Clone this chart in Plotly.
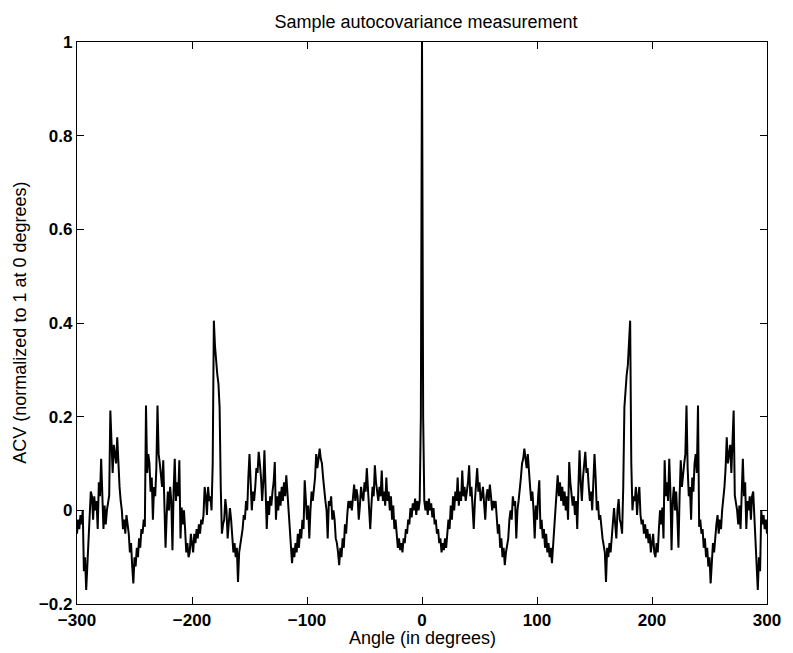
import plotly.graph_objects as go

# Lag angles (degrees) for the non-negative half; the ACV is symmetric about 0
angles_pos = list(range(0, 301))

# ACV values at 1-degree steps, 0..300 degrees
acv_pos = [
    1.0, 0.2, 0.02, 0.0, 0.02, -0.01, 0.025, 0.0, 0.015, -0.015,
    0.005, -0.03, -0.02, -0.05, -0.04, -0.07, -0.06, -0.09, -0.07, -0.085,
    -0.06, -0.08, -0.05, -0.02, -0.04, 0.01, -0.02, 0.03, 0.0, 0.04,
    0.02, 0.07, 0.01, 0.04, 0.02, 0.085, 0.03, 0.05, 0.02, 0.04,
    0.06, 0.096, 0.03, 0.05, 0.01, -0.04, 0.02, 0.05, 0.09, 0.04,
    0.06, 0.02, 0.03, 0.05, 0.01, -0.02, 0.03, 0.045, 0.02, 0.055,
    0.03, 0.0, 0.02, 0.005, 0.02, -0.01, -0.05, -0.03, -0.08, -0.06,
    -0.1, -0.08, -0.117, -0.09, -0.07, -0.06, -0.02, 0.0, -0.02, 0.03,
    0.01, 0.02, -0.06, 0.0, 0.02, 0.04, 0.07, 0.1, 0.11, 0.132,
    0.11, 0.09, 0.12, 0.07, 0.05, 0.02, 0.04, 0.0, -0.06, 0.01,
    -0.02, 0.03, 0.064, -0.04, -0.02, -0.06, -0.04, -0.08, -0.05, -0.09,
    -0.07, -0.1, -0.08, -0.113, -0.07, -0.04, 0.01, 0.04, 0.075, 0.03,
    0.06, 0.02, 0.05, 0.01, 0.04, 0.0, 0.03, -0.02, 0.103, 0.06,
    0.04, 0.01, 0.03, -0.01, 0.02, -0.04, 0.05, 0.128, 0.06, 0.02,
    0.07, 0.1, 0.125, 0.08, 0.09, 0.05, 0.02, 0.04, 0.0, 0.06,
    0.12, 0.07, 0.0, 0.02, -0.02, -0.01, -0.04, -0.06, -0.075, -0.09,
    -0.153, -0.08, -0.1, -0.07, -0.09, -0.06, -0.02, 0.005, -0.03, -0.06,
    0.0, 0.024, -0.02, -0.03, -0.05, 0.05, 0.22, 0.27, 0.29, 0.31,
    0.35, 0.405, 0.1, 0.0, 0.03, 0.02, 0.05, -0.01, 0.03, 0.05,
    -0.01, -0.03, -0.02, -0.05, -0.03, -0.06, -0.04, -0.07, -0.05, -0.09,
    -0.07, -0.05, -0.09, -0.1, -0.07, -0.09, -0.04, 0.0, -0.03, 0.006,
    -0.06, 0.107, 0.03, 0.06, 0.02, 0.11, 0.04, -0.085, 0.02, 0.05,
    0.0, 0.04, -0.01, -0.08, 0.03, 0.107, 0.05, 0.08, 0.1, 0.12,
    0.224, 0.09, 0.03, 0.05, -0.02, 0.07, 0.04, 0.1, 0.12, 0.08,
    0.224, -0.035, -0.02, -0.05, -0.04, -0.08, -0.06, -0.1, -0.08, -0.12,
    -0.1, -0.156, -0.12, -0.07, -0.09, -0.05, -0.03, -0.01, -0.05, -0.02,
    -0.04, 0.0, 0.02, 0.05, 0.09, 0.156, 0.1, 0.12, 0.14, 0.08,
    0.15, 0.213, 0.032, 0.02, 0.0, -0.03, 0.01, -0.04, 0.05, 0.11,
    0.03, 0.06, -0.04, 0.02, 0.0, 0.03, -0.02, 0.03, 0.04, -0.02,
    -0.06, -0.12, -0.17, -0.1, -0.13, 0.0, -0.03, -0.01, -0.04, -0.02,
    -0.05,
]

x_ticks = [-300, -200, -100, 0, 100, 200, 300]
x_ticktext = ["\u2212300", "\u2212200", "\u2212100", "0", "100", "200", "300"]
y_ticks = [-0.2, 0, 0.2, 0.4, 0.6, 0.8, 1]
y_ticktext = ["\u22120.2", "0", "0.2", "0.4", "0.6", "0.8", "1"]

title_text = "Sample autocovariance measurement"
xlabel = "Angle (in degrees)"
ylabel = "ACV (normalized to 1 at 0 degrees)"

# Full symmetric series
angles = [-a for a in reversed(angles_pos[1:])] + angles_pos
acv = list(reversed(acv_pos[1:])) + acv_pos

W, H = 793, 653
ml, mr, mt, mb = 77, 18, 42, 49

fam = "Arial, Liberation Sans, Helvetica, sans-serif"
tick_font = dict(family=fam, size=17, color="black", weight="bold")
label_font = dict(family=fam, size=18, color="black")

fig = go.Figure()
fig.add_trace(go.Scatter(x=angles, y=acv, mode="lines",
                         line=dict(color="black", width=2.0),
                         showlegend=False, hoverinfo="skip"))

axis_common = dict(showline=True, linecolor="black", linewidth=1.3,
                   mirror="allticks", ticks="inside", ticklen=7,
                   tickcolor="black", tickwidth=1.3, showgrid=False,
                   zeroline=False, tickfont=tick_font)

fig.update_layout(
    width=W, height=H,
    margin=dict(l=ml, r=mr, t=mt, b=mb, pad=0),
    paper_bgcolor="white", plot_bgcolor="white",
    title=dict(text=title_text, x=426 / W, xanchor="center",
               y=1 - 22 / H, yanchor="middle", yref="container",
               font=label_font),
    xaxis=dict(range=[-300, 300], tickvals=x_ticks, ticktext=x_ticktext,
               **axis_common),
    yaxis=dict(range=[-0.2, 1], tickvals=y_ticks, ticktext=y_ticktext,
               **axis_common),
    annotations=[
        dict(text=xlabel, xref="paper", yref="paper", x=0.5, y=-34 / (H - mt - mb),
             xanchor="center", yanchor="middle", showarrow=False, font=label_font),
        dict(text=ylabel, xref="paper", yref="paper", x=-(77 - 19) / (W - ml - mr),
             y=0.5, xanchor="center", yanchor="middle",
             textangle=-90, showarrow=False, font=label_font),
    ],
)

fig.write_html("out.html")
